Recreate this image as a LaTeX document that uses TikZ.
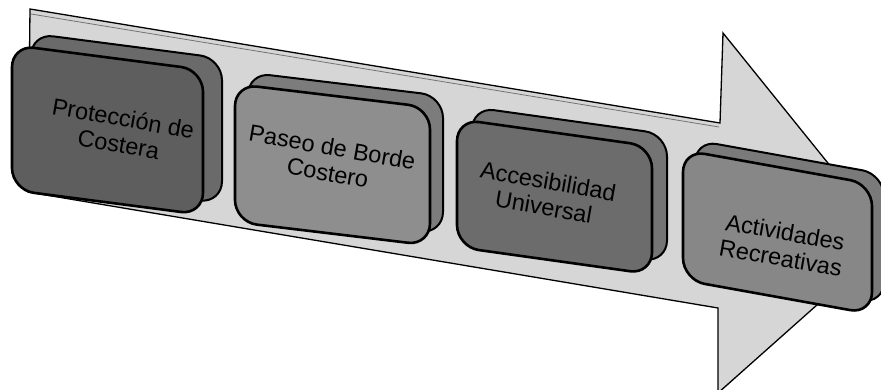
\documentclass[tikz,border=0pt]{standalone}
\usepackage{fontspec}
\setmainfont{Liberation Sans}
\definecolor{arrowfill}{HTML}{D6D6D6}
\definecolor{bonefront}{HTML}{5E5E5E}
\definecolor{boneback}{HTML}{6A6A6A}
\definecolor{btwofront}{HTML}{8E8E8E}
\definecolor{btwoback}{HTML}{7C7C7C}
\definecolor{bthreefront}{HTML}{6C6C6C}
\definecolor{bthreeback}{HTML}{747474}
\definecolor{bfourfront}{HTML}{878787}
\definecolor{bfourback}{HTML}{7A7A7A}
\begin{document}
\begin{tikzpicture}[x=1pt,y=-1pt,
  arrowbody/.style={fill=arrowfill, draw=black, line width=1.3pt, line join=miter},
  arrowedge/.style={draw=black!55, line width=0.8pt},
  face/.style={draw=black, line width=2.6pt, rounded corners=22pt},
  backplate/.style={draw=black, line width=2pt, rounded corners=22pt},
  boxtext/.style={font=\fontsize{23.5}{26}\selectfont, align=center, rotate=-10, text=black, inner sep=0pt}]
\useasboundingbox (0,0) rectangle (881,390);
\clip (0,0) rectangle (881,390);
% big arrow
\draw[arrowbody] (30,9) -- (720,123) -- (723,33) -- (890,240) -- (718,393) -- (718,308) -- (28,192) -- cycle;
\coordinate (ea) at (31,14);
\coordinate (eb) at (719,127);
\draw[arrowedge] (ea) -- (eb);
% box 1
\begin{scope}[shift={(12,45)}, yslant=-0.13]
  \draw[backplate, fill=boneback] (19,-14) rectangle ++(191,145);
  \draw[face, fill=bonefront] (0,0) rectangle (191,145);
\end{scope}
% box 2
\begin{scope}[shift={(235,84)}, yslant=-0.12]
  \draw[backplate, fill=btwoback] (13,-13) rectangle ++(195,138);
  \draw[face, fill=btwofront] (0,0) rectangle (195,138);
\end{scope}
% box 3
\begin{scope}[shift={(457,119)}, yslant=-0.14]
  \draw[backplate, fill=bthreeback] (15,-14) rectangle ++(195,128);
  \draw[face, fill=bthreefront] (0,0) rectangle (195,128);
\end{scope}
% box 4
\begin{scope}[shift={(683,150)}, yslant=-0.18]
  \draw[backplate, fill=bfourback] (12,-12) rectangle ++(189,130);
  \draw[face, fill=bfourfront] (0,0) rectangle (189,130);
\end{scope}
% texts
\node[boxtext] (t1) at (121,131) {Protección de\\Costera};
\node[boxtext] (t2) at (330,160) {Paseo de Borde\\Costero};
\node[boxtext] (t3) at (546,194) {Accesibilidad\\Universal};
\node[boxtext] (t4) at (783,245) {Actividades\\Recreativas};
\end{tikzpicture}
\end{document}
